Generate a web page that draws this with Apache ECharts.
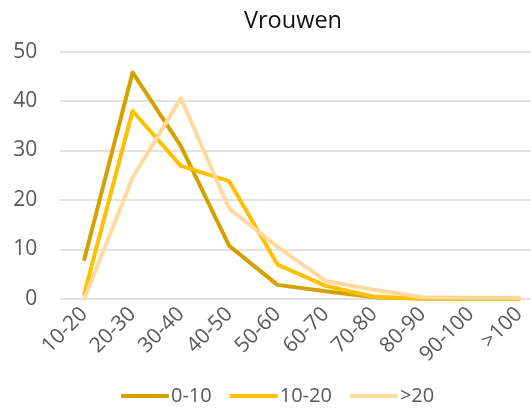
<!DOCTYPE html>
<html><head><meta charset="utf-8">
<script src="https://cdn.jsdelivr.net/npm/echarts@6/dist/echarts.min.js"></script>
<style>html,body{margin:0;padding:0;background:#fff}#c{width:531px;height:408px}</style>
</head><body><div id="c"></div>
<script>
const categories = ['10-20','20-30','30-40','40-50','50-60','60-70','70-80','80-90','90-100','>100'];
const s0_10 = [8, 45.8, 30.9, 10.7, 2.8, 1.5, 0.3, 0, 0, 0];
const s10_20 = [1, 38, 26.9, 23.8, 6.9, 2.6, 0.4, 0, 0, 0];
const sGt20 = [0, 24.5, 40.6, 18.2, 10.5, 3.6, 1.8, 0.3, 0.2, 0.2];
const seriesNames = ['0-10', '10-20', '>20'];
const yTicks = [0, 10, 20, 30, 40, 50];

const font = '"Open Sans", "Noto Sans", sans-serif';
const colors = ['#D4A200', '#FFC000', '#FFD99E'];
const chart = echarts.init(document.getElementById('c'), null, {renderer: 'canvas'});
const mk = (name, data, i) => ({
  name, type: 'line', data, symbol: 'none', smooth: false, xAxisIndex: 0, yAxisIndex: 0,
  lineStyle: {width: 4, color: colors[i], cap: 'round', join: 'round'},
  itemStyle: {color: colors[i]}, z: 2 + i
});
const yMin = yTicks[0], yMax = yTicks[yTicks.length - 1];
chart.setOption({
  animation: false,
  title: {text: 'Vrouwen', left: 288, top: 4, textAlign: 'center',
    textStyle: {fontFamily: font, fontSize: 23.5, fontWeight: 'normal', color: '#111'}},
  grid: [
    {left: 84.3, top: 51.7, width: 434.7, height: 247, containLabel: false},
    {left: 60, right: 0, top: 51.7, height: 247, containLabel: false}
  ],
  xAxis: [
    {type: 'category', gridIndex: 0, data: categories, boundaryGap: false,
      axisLine: {show: false}, axisTick: {show: false}, splitLine: {show: false},
      axisLabel: {rotate: 45, margin: 12, fontFamily: font, fontSize: 21, color: '#595959', interval: 0}},
    {type: 'value', gridIndex: 1, show: false}
  ],
  yAxis: [
    {type: 'value', gridIndex: 0, min: yMin, max: yMax, interval: 10,
      axisLine: {show: false}, axisTick: {show: false}, splitLine: {show: false},
      axisLabel: {margin: 47, fontFamily: font, fontSize: 21, color: '#595959'}},
    {type: 'value', gridIndex: 1, min: yMin, max: yMax, interval: 10,
      axisLine: {show: false}, axisTick: {show: false}, axisLabel: {show: false},
      splitLine: {lineStyle: {color: '#D9D9D9', width: 1.5}}}
  ],
  legend: {top: 381, left: 116, itemWidth: 48, itemHeight: 4, itemGap: 18,
    icon: 'roundRect',
    textStyle: {fontFamily: font, fontSize: 20, color: '#595959', padding: [0,0,0,-3]},
    data: seriesNames},
  series: [mk(seriesNames[0], s0_10, 0), mk(seriesNames[1], s10_20, 1), mk(seriesNames[2], sGt20, 2)]
});
</script></body></html>
